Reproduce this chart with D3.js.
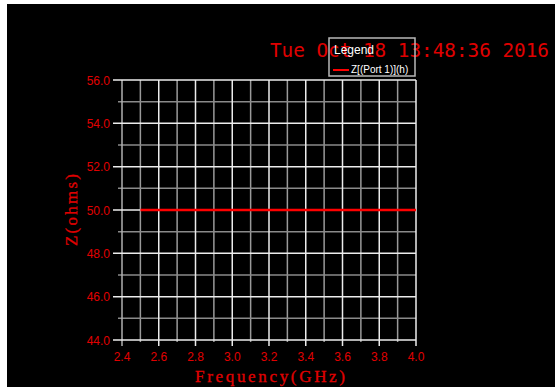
<!DOCTYPE html>
<html>
<head>
<meta charset="utf-8">
<script src="https://cdn.jsdelivr.net/npm/d3@7"></script>
<style>
  html, body { margin: 0; padding: 0; background: #000; }
  svg { display: block; }
</style>
</head>
<body>
<svg id="chart" width="555" height="387"></svg>
<script>
// Port impedance vs frequency
const freqGHz = [2.5, 2.6, 2.7, 2.8, 2.9, 3.0, 3.1, 3.2, 3.3, 3.4, 3.5, 3.6, 3.7, 3.8, 3.9, 4.0];
const zOhms   = [50, 50, 50, 50, 50, 50, 50, 50, 50, 50, 50, 50, 50, 50, 50, 50];
const xTicks  = [2.4, 2.6, 2.8, 3.0, 3.2, 3.4, 3.6, 3.8, 4.0];
const xMinor  = [2.5, 2.7, 2.9, 3.1, 3.3, 3.5, 3.7, 3.9];
const yTicks  = [44, 46, 48, 50, 52, 54, 56];
const yMinor  = [45, 47, 49, 51, 53, 55];
const seriesName = "Z[(Port 1)](h)";
const stamp = "Tue Oct 18 13:48:36 2016";

const svg = d3.select("#chart");
const W = 555, H = 387;
const red = "#e00000";

svg.append("rect").attr("width", W).attr("height", H).attr("fill", "#000");
// light strips along the left and top edges
svg.append("rect").attr("x", 0).attr("y", 0).attr("width", 7).attr("height", H).attr("fill", "#fff");
svg.append("rect").attr("x", 0).attr("y", 0).attr("width", W).attr("height", 4).attr("fill", "#fff");

const x = d3.scaleLinear().domain([2.4, 4.0]).range([122, 416]);
const y = d3.scaleLinear().domain([44, 56]).range([340, 80]);

const grid = svg.append("g");
// minor grid (grey)
grid.selectAll(".vmin").data(xMinor).join("line")
  .attr("x1", d => x(d)).attr("x2", d => x(d))
  .attr("y1", y(56)).attr("y2", y(44) + 2)
  .attr("stroke", "#9a9a9a").attr("stroke-width", 1.5);
grid.selectAll(".hmin").data(yMinor).join("line")
  .attr("x1", x(2.4) - 4).attr("x2", x(4.0))
  .attr("y1", d => y(d)).attr("y2", d => y(d))
  .attr("stroke", "#8a8a8a").attr("stroke-width", 1.5);
// major grid (white), extended past the frame as tick marks
grid.selectAll(".vmaj").data(xTicks).join("line")
  .attr("x1", d => x(d)).attr("x2", d => x(d))
  .attr("y1", y(56)).attr("y2", y(44) + 6)
  .attr("stroke", d => d === 2.4 ? "#b0b0b0" : "#ececec").attr("stroke-width", 1.5);
grid.selectAll(".hmaj").data(yTicks).join("line")
  .attr("x1", x(2.4) - 9).attr("x2", x(4.0))
  .attr("y1", d => y(d)).attr("y2", d => y(d))
  .attr("stroke", "#ececec").attr("stroke-width", 1.5);

// tick labels
svg.append("g").selectAll("text").data(yTicks).join("text")
  .attr("x", 110).attr("y", d => y(d) + 4.5)
  .attr("text-anchor", "end")
  .attr("font-family", "Arial, 'Liberation Sans', sans-serif")
  .attr("font-size", 12).attr("fill", red)
  .text(d => d.toFixed(1));
svg.append("g").selectAll("text").data(xTicks).join("text")
  .attr("x", d => x(d)).attr("y", 361)
  .attr("text-anchor", "middle")
  .attr("font-family", "Arial, 'Liberation Sans', sans-serif")
  .attr("font-size", 12).attr("fill", red)
  .text(d => d.toFixed(1));

// axis titles
svg.append("text")
  .attr("x", 270).attr("y", 382)
  .attr("text-anchor", "middle")
  .attr("font-family", "'Liberation Serif', 'Times New Roman', serif")
  .attr("font-size", 17).attr("fill", red)
  .attr("stroke", red).attr("stroke-width", 0.3)
  .attr("textLength", 150).attr("lengthAdjust", "spacing")
  .text("Frequency(GHz)");
svg.append("text")
  .attr("transform", "translate(77,210) rotate(-90)")
  .attr("text-anchor", "middle")
  .attr("font-family", "'Liberation Serif', 'Times New Roman', serif")
  .attr("font-size", 17).attr("fill", red)
  .attr("stroke", red).attr("stroke-width", 0.3)
  .attr("textLength", 72).attr("lengthAdjust", "spacing")
  .text("Z(ohms)");

// data line
const line = d3.line().x((d, i) => x(freqGHz[i])).y(d => y(d));
svg.append("path")
  .datum(zOhms)
  .attr("d", line)
  .attr("fill", "none")
  .attr("stroke", "#ff0000")
  .attr("stroke-width", 2.5);

// timestamp
svg.append("text")
  .attr("x", 270).attr("y", 57)
  .attr("font-family", "'DejaVu Sans Mono', monospace")
  .attr("font-size", 19).attr("font-weight", 300).attr("fill", red)
  .attr("textLength", 279).attr("lengthAdjust", "spacingAndGlyphs")
  .text(stamp);

// legend
const lg = svg.append("g").attr("transform", "translate(329,38)");
lg.append("rect").attr("width", 86).attr("height", 38)
  .attr("fill", "none").attr("stroke", "#b8b8b8").attr("stroke-width", 1.5);
lg.append("text").attr("x", 5).attr("y", 16)
  .attr("font-family", "Arial, 'Liberation Sans', sans-serif")
  .attr("font-size", 12).attr("fill", "#fff")
  .text("Legend");
lg.append("line").attr("x1", 4).attr("x2", 20).attr("y1", 32).attr("y2", 32)
  .attr("stroke", "#ff0000").attr("stroke-width", 2);
lg.append("text").attr("x", 22).attr("y", 35)
  .attr("font-family", "Arial, 'Liberation Sans', sans-serif")
  .attr("font-size", 10).attr("fill", "#fff")
  .text(seriesName);
</script>
</body>
</html>
